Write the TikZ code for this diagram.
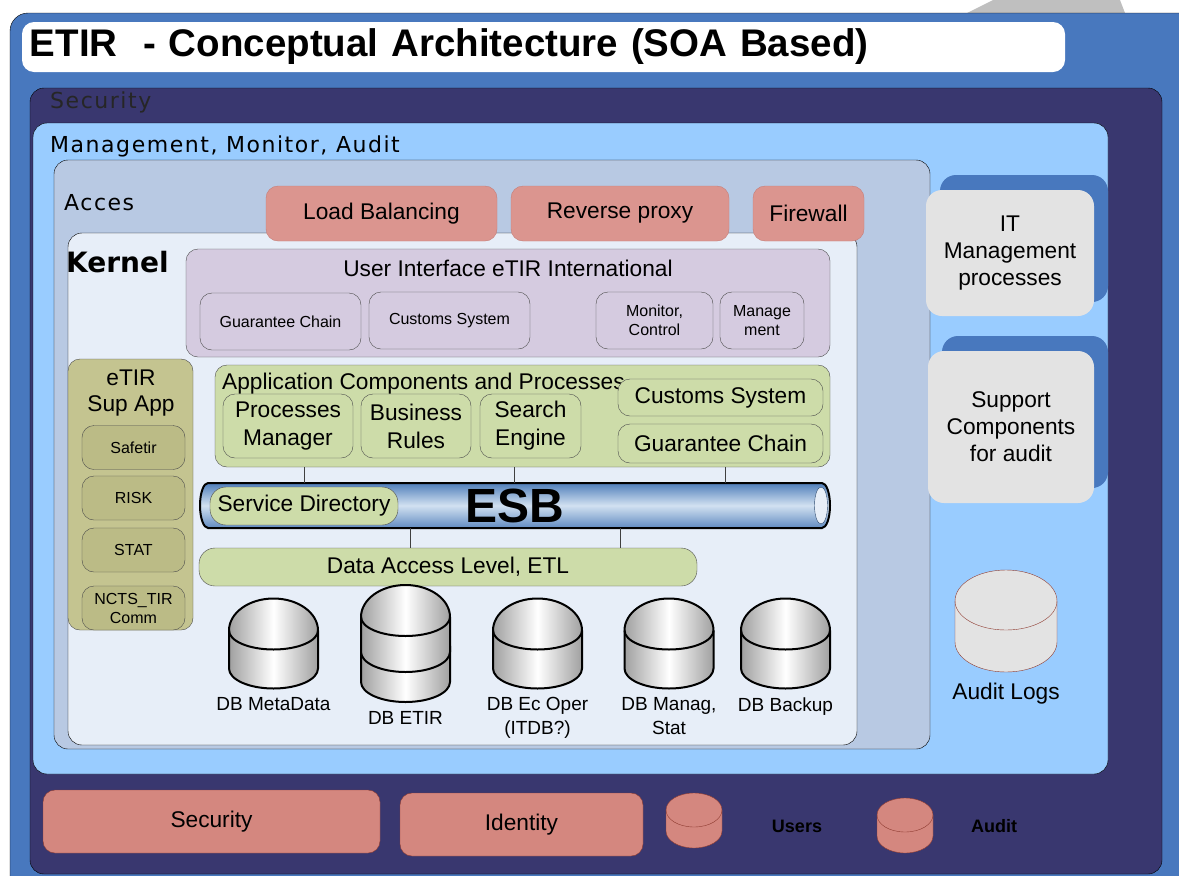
\documentclass[tikz,border=0pt]{standalone}
\usepackage{fontspec}
\setmainfont{Liberation Sans}
\newfontfamily\verd[LetterSpace=7]{DejaVu Sans}
\newfontfamily\verdb{DejaVu Sans}
\usepackage{tikz}
\usetikzlibrary{shapes.geometric}
\usetikzlibrary{positioning}
\definecolor{outerblue}{HTML}{4878BE}
\definecolor{navy}{HTML}{39376F}
\definecolor{skyblue}{HTML}{99CCFF}
\definecolor{accfill}{HTML}{B8C9E3}
\definecolor{kernfill}{HTML}{E7EEF8}
\definecolor{pinkfill}{HTML}{DB958F}
\definecolor{pinkline}{HTML}{C67E78}
\definecolor{uifill}{HTML}{D5CBE0}
\definecolor{greenfill}{HTML}{CDDCA9}
\definecolor{olivefill}{HTML}{C4C490}
\definecolor{olivesub}{HTML}{BBBB86}
\definecolor{palegray}{HTML}{E3E3E3}
\definecolor{redfill}{HTML}{D4877F}
\definecolor{redline}{HTML}{8E3B30}
\definecolor{esbdark}{HTML}{4F7EBA}
\definecolor{esblight}{HTML}{D2E1F1}
\definecolor{cylgray}{HTML}{A0A0A0}
\tikzstyle{layer}=[rectangle, rounded corners=14pt, draw=black, thin, inner sep=0pt]
\tikzstyle{laytext}=[anchor=west, inner sep=0pt, font=\verd\fontsize{22}{24}\selectfont]
\tikzstyle{accbox}=[rectangle, rounded corners=12pt, draw=pinkline, fill=pinkfill, minimum height=55pt, font=\fontsize{22.7}{26}\selectfont]
\tikzstyle{uibox}=[rectangle, rounded corners=12pt, draw=black!70, fill=uifill, minimum height=57pt, align=center, font=\fontsize{16}{19}\selectfont]
\tikzstyle{appbox}=[rectangle, rounded corners=12pt, draw=black!70, fill=greenfill, align=center, font=\fontsize{22.7}{28}\selectfont]
\tikzstyle{supbox}=[rectangle, rounded corners=12pt, draw=black!70, fill=olivesub, minimum width=103pt, minimum height=44pt, align=center, font=\fontsize{16}{19}\selectfont]
\tikzstyle{spot}=[rectangle, inner sep=0pt, outer sep=0pt]
\tikzstyle{dbshade}=[draw=black, line width=2pt, left color=cylgray, right color=cylgray, middle color=white]
\tikzstyle{dblabel}=[align=center, inner sep=0pt, font=\fontsize{19}{24}\selectfont]
\tikzstyle{itbox}=[rectangle, rounded corners=16pt, fill=palegray, align=center, font=\fontsize{22.7}{27}\selectfont]
\tikzstyle{itback}=[rectangle, rounded corners=16pt, fill=outerblue]
\tikzstyle{redbox}=[rectangle, rounded corners=12pt, draw=redline, fill=redfill, font=\fontsize{22.7}{26}\selectfont]
\tikzstyle{boldtext}=[font=\bfseries\fontsize{18}{20}\selectfont]
\tikzstyle{bus}=[draw=black!75, thin]

\begin{document}
\begin{tikzpicture}[x=1pt, y=1pt]
	\useasboundingbox (0,0) rectangle (1179,-876);
	\clip (0,0) rectangle (1179,-876);
	\fill[gray!50] (967,-13) -- (993,0) -- (1120,0) -- (1125,-13) -- cycle;
	\node (outer) at (605,-460) [layer, fill=outerblue, rounded corners=18pt, minimum width=1190pt, minimum height=894pt] {};
	\node (title) at (543.5,-47) [rectangle, rounded corners=12pt, fill=white, minimum height=50pt, text width=1027pt, inner xsep=8pt, align=left, font=\bfseries\fontsize{38.5}{40}\selectfont] {ETIR\ \ - Conceptual Architecture (SOA Based)};

	\node (security) at (596,-481) [layer, fill=navy, minimum width=1132pt, minimum height=786pt] {};
	\node (securitytext) at (50,-102) [laytext, text=black!85] {Security};
	\node (mma) at (570.5,-448.5) [layer, fill=skyblue, minimum width=1075pt, minimum height=651pt] {};
	\node (mmatext) at (50,-146) [laytext] {Management, Monitor, Audit};
	\node (acces) at (492,-454.5) [layer, fill=accfill, minimum width=876pt, minimum height=589pt] {};
	\node (accestext) at (64,-203) [laytext] {Acces};
	\node (kernel) at (462.5,-489) [layer, fill=kernfill, minimum width=789pt, minimum height=512pt] {};
	\node (kerneltext) at (66,-262) [anchor=west, inner sep=0pt, font=\verdb\bfseries\fontsize{28}{30}\selectfont] {Kernel};

	\node (lb) at (381.5,-213.5) [accbox, minimum width=231pt] {Load Balancing};
	\node (rp) at (620,-213.5) [accbox, minimum width=218pt] {Reverse proxy};
	\node (fw) at (808.5,-213.5) [accbox, minimum width=111pt] {Firewall};

	\node (ui) at (508,-303) [uibox, minimum width=644pt, minimum height=108pt] {};
	\node (uitext) at (508,-268) [font=\fontsize{22.7}{26}\selectfont] {User Interface eTIR International};
	\node (uigc) at (280.5,-321.5) [uibox, minimum width=161pt] {Guarantee Chain};
	\node (uics) at (449.5,-320.5) [uibox, minimum width=161pt] {Customs System};
	\node (uimc) at (654.5,-320.5) [uibox, minimum width=117pt] {Monitor,\\Control};
	\node (uimg) at (762,-320.5) [uibox, minimum width=84pt] {Manage\\ment};

	\node (sup) at (130.5,-494.5) [supbox, fill=olivefill, minimum width=125pt, minimum height=271pt] {};
	\node (suptext) at (131,-393) [align=center, font=\fontsize{22.7}{26}\selectfont] {eTIR\\Sup App};
	\node (safetir) at (133.5,-447.5) [supbox] {Safetir};
	\node (risk) at (133.5,-498) [supbox] {RISK};
	\node (stat) at (133.5,-550) [supbox] {STAT};
	\node (ncts) at (133.5,-608) [supbox] {NCTS\_TIR\\Comm};

	\node (app) at (522.5,-416) [appbox, minimum width=615pt, minimum height=102pt] {};
	\node (apptext) at (222,-384) [anchor=west, inner sep=0pt, font=\fontsize{22.7}{26}\selectfont] {Application Components and Processes};
	\node (pm) at (288,-426) [appbox, minimum width=130pt, minimum height=64pt] {Processes\\Manager};
	\node (br) at (416,-426) [appbox, minimum width=110pt, minimum height=64pt] {Business\\Rules};
	\node (se) at (530.5,-426) [appbox, minimum width=101pt, minimum height=64pt] {Search\\Engine};
	\node (appcs) at (720.5,-397.5) [appbox, minimum width=205pt, minimum height=37pt] {Customs System};
	\node (appgc) at (720.5,-443.5) [appbox, minimum width=205pt, minimum height=39pt] {Guarantee Chain};

	\node (esb) at (515,-505.5) [spot, minimum width=630pt, minimum height=45pt] {};
	\path[draw=black, line width=2pt, top color=esbdark, bottom color=esbdark!90, middle color=esblight]
		([xshift=8pt]esb.north west) -- ([xshift=-8pt]esb.north east)
		arc[start angle=90, end angle=-90, x radius=8, y radius=22.5]
		-- ([xshift=8pt]esb.south west)
		arc[start angle=270, end angle=90, x radius=8, y radius=22.5] -- cycle;
	\node (esbcap) at ([xshift=-9pt]esb.east) [ellipse, draw=esbdark!60!black, thin, fill=kernfill, minimum width=13pt, minimum height=37pt, inner sep=0pt] {};
	\node (esbtext) at (esb) [font=\bfseries\fontsize{48}{50}\selectfont] {ESB};
	\node (sd) at (304,-506) [appbox, rounded corners=16pt, minimum width=188pt, minimum height=38pt] {Service Directory};
	\node (dal) at (448,-567) [appbox, rounded corners=16pt, minimum width=498pt, minimum height=38pt] {Data Access Level, ETL};

	\coordinate (b1) at (304,0);
	\coordinate (b2) at (514,0);
	\coordinate (b3) at (725,0);
	\coordinate (b4) at (410,0);
	\coordinate (b5) at (620,0);
	\path[bus]
		(app.south -| b1) edge (esb.north -| b1)
		(app.south -| b2) edge (esb.north -| b2)
		(app.south -| b3) edge (esb.north -| b3)
		(esb.south -| b4) edge (dal.north -| b4)
		(esb.south -| b5) edge (dal.north -| b5);

	\node (dbmeta) at (273.5,-643.5) [spot, minimum width=89pt, minimum height=90pt] {};
	\node (dbetirlow) at (405.5,-658) [spot, minimum width=89pt, minimum height=88pt] {};
	\node (dbetir) at (405.5,-628.5) [spot, minimum width=89pt, minimum height=87pt] {};
	\node (dbecoper) at (537.5,-643.5) [spot, minimum width=89pt, minimum height=90pt] {};
	\node (dbmanag) at (669,-643.5) [spot, minimum width=89pt, minimum height=90pt] {};
	\node (dbbackup) at (785.5,-643.5) [spot, minimum width=89pt, minimum height=90pt] {};
	\foreach \n in {dbmeta, dbetirlow, dbetir, dbecoper, dbmanag, dbbackup} {
		\path[dbshade] ([yshift=-32pt]\n.north west) -- ([yshift=20pt]\n.south west)
			arc[start angle=180, end angle=360, x radius=44.5, y radius=20]
			-- ([yshift=-32pt]\n.north east)
			arc[start angle=0, end angle=180, x radius=44.5, y radius=32] -- cycle;
		\draw[line width=2pt] ([yshift=-32pt]\n.north west)
			arc[start angle=180, end angle=360, x radius=44.5, y radius=19];
	}
	\node (dbmetatext) [dblabel, below=9pt of dbmeta] {DB MetaData};
	\node (dbetirtext) [dblabel, below=9pt of dbetirlow] {DB ETIR};
	\node (dbecopertext) [dblabel, below=9pt of dbecoper] {DB Ec Oper\\(ITDB?)};
	\node (dbmanagtext) [dblabel, below=9pt of dbmanag] {DB Manag,\\Stat};
	\node (dbbackuptext) [dblabel, below=9pt of dbbackup] {DB Backup};

	\node (itmback) at (1024,-238.5) [itback, minimum width=168pt, minimum height=127pt] {};
	\node (itm) at (1010,-253) [itbox, minimum width=168pt, minimum height=126pt] {IT\\Management\\processes};
	\node (supportback) at (1025,-412) [itback, minimum width=166pt, minimum height=152pt] {};
	\node (support) at (1011,-427) [itbox, minimum width=166pt, minimum height=152pt] {Support\\Components\\for audit};

	\node (auditlogs) at (1006,-621) [spot, minimum width=102pt, minimum height=102pt] {};
	\path[draw=redline, fill=palegray] ([yshift=-31pt]auditlogs.north west) -- ([yshift=30pt]auditlogs.south west)
		arc[start angle=180, end angle=360, x radius=51, y radius=30]
		-- ([yshift=-31pt]auditlogs.north east)
		arc[start angle=0, end angle=180, x radius=51, y radius=31] -- cycle;
	\draw[redline] ([yshift=-31pt]auditlogs.north west) arc[start angle=180, end angle=360, x radius=51, y radius=29];
	\node (auditlogstext) [below=11pt of auditlogs, inner sep=0pt, font=\fontsize{22.7}{26}\selectfont] {Audit Logs};

	\node (bsec) at (211.5,-821.5) [redbox, minimum width=337pt, minimum height=63pt] {Security};
	\node (bid) at (521.5,-824.5) [redbox, minimum width=243pt, minimum height=63pt] {Identity};
	\node (users) at (694,-820.5) [spot, minimum width=56pt, minimum height=55pt] {};
	\node (audit) at (905,-825.5) [spot, minimum width=56pt, minimum height=55pt] {};
	\foreach \n in {users, audit} {
		\path[draw=redline, fill=redfill] ([yshift=-17pt]\n.north west) -- ([yshift=17pt]\n.south west)
			arc[start angle=180, end angle=360, x radius=28, y radius=17]
			-- ([yshift=-17pt]\n.north east)
			arc[start angle=0, end angle=180, x radius=28, y radius=17] -- cycle;
		\draw[redline] ([yshift=-17pt]\n.north west) arc[start angle=180, end angle=360, x radius=28, y radius=17];
	}
	\node (userstext) at (797,-826) [boldtext] {Users};
	\node (audittext) at (994,-826) [boldtext] {Audit};
\end{tikzpicture}
\end{document}
